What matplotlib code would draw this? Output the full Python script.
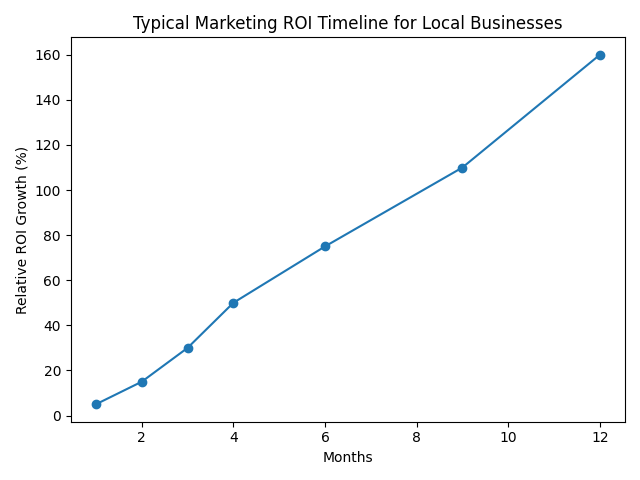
import matplotlib
matplotlib.use("Agg")
import matplotlib.pyplot as plt

# timeline data
months = [1, 2, 3, 4, 6, 9, 12]
roi_growth = [5, 15, 30, 50, 75, 110, 160]

plt.figure(figsize=(6.4, 4.8), dpi=100)
plt.plot(months, roi_growth, marker='o')
plt.xlabel("Months")
plt.ylabel("Relative ROI Growth (%)")
plt.title("Typical Marketing ROI Timeline for Local Businesses")

plt.tight_layout()
plt.savefig("out.png")
